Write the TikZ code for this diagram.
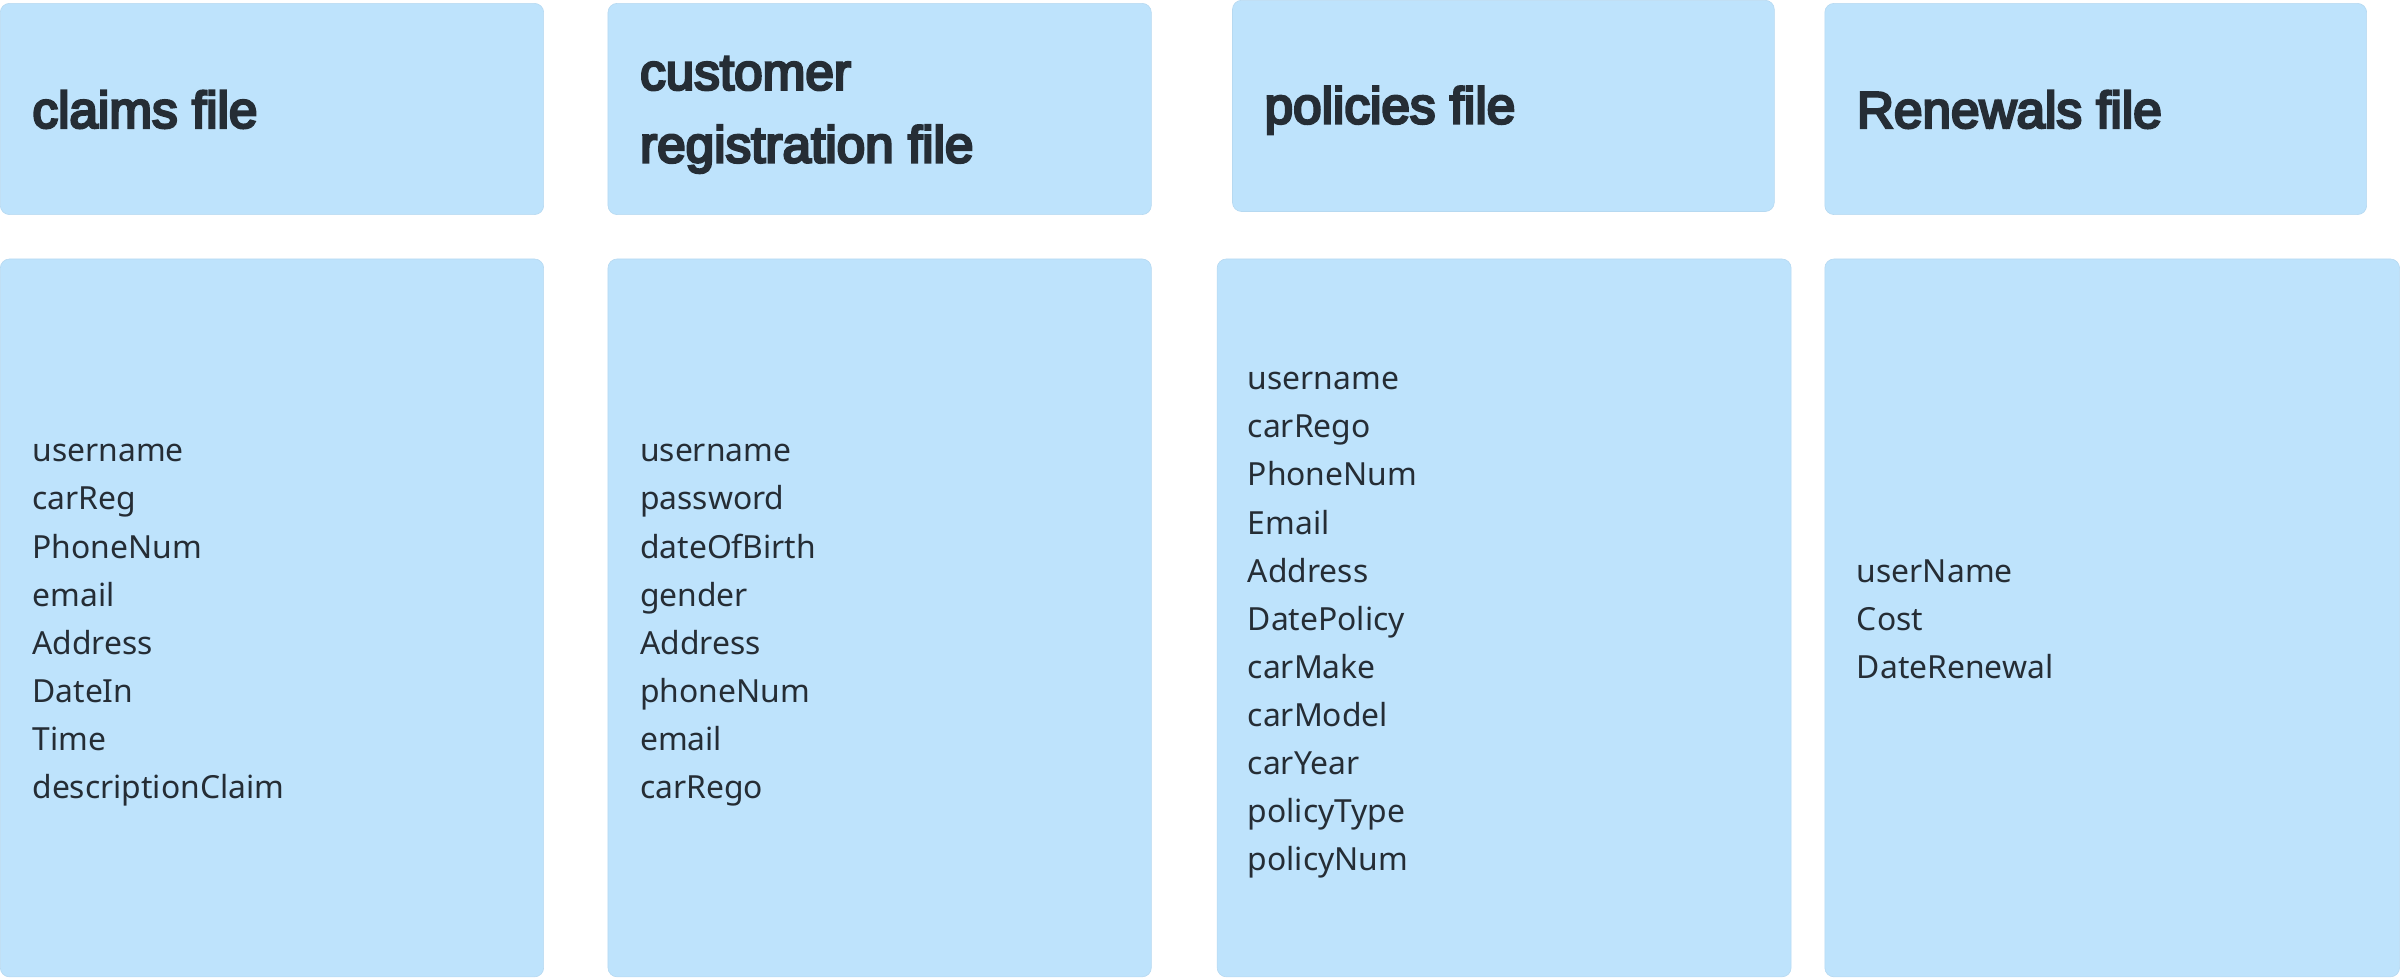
\documentclass[tikz,border=0pt]{standalone}
\usepackage{fontspec}
\setmainfont{Noto Sans}
\newfontfamily\titlefont{Liberation Sans}[FakeBold=5]
\definecolor{boxblue}{HTML}{BEE3FC}
\definecolor{boxedge}{HTML}{B6D9F1}
\definecolor{ink}{HTML}{252D35}
\begin{document}
\begin{tikzpicture}[x=1pt,y=-1pt,
  panel/.style={fill=boxblue, draw=boxedge, line width=0.4pt, rounded corners=6pt,
    inner sep=0pt, anchor=north west, minimum height=#1},
  head/.style={panel=138pt},
  body/.style={panel=469pt},
  title/.style={anchor=west, align=left, text=ink, inner sep=0pt,
    font=\titlefont\fontsize{33.5}{47.5}\selectfont},
  field/.style={anchor=west, align=left, text=ink, inner sep=0pt,
    font=\fontsize{20.8}{31.4}\selectfont}]
\useasboundingbox (0,0) rectangle (1568,639);

% header panels
\node[head, minimum width=355pt] (claimsHead) at (0,2) {};
\node[head, minimum width=355pt] (custHead) at (397,2) {};
\node[head, minimum width=354pt] (polHead) at (805,0) {};
\node[head, minimum width=354pt] (renHead) at (1192,2) {};

% body panels
\node[body, minimum width=355pt] (claimsBody) at (0,169) {};
\node[body, minimum width=355pt] (custBody) at (397,169) {};
\node[body, minimum width=375pt] (polBody) at (795,169) {};
\node[body, minimum width=375.5pt] (renBody) at (1192,169) {};

% titles
\node[title] (claimsTitle) at (21,71.5) {claims file};
\node[title] (custTitle) at (418,75) {customer\\registration file};
\node[title] (polTitle) at (826,72) {policies file};
\node[title] (renTitle) at (1213,71.5) {Renewals file};

% fields
\node[field] (claimsFields) at (21,408.5)
  {username\\carReg\\PhoneNum\\email\\Address\\DateIn\\Time\\descriptionClaim};
\node[field] (custFields) at (418,408.5)
  {username\\password\\dateOfBirth\\gender\\Address\\phoneNum\\email\\carRego};
\node[field] (polFields) at (815,408.5)
  {username\\carRego\\PhoneNum\\Email\\Address\\DatePolicy\\carMake\\carModel\\carYear\\policyType\\policyNum};
\node[field] (renFields) at (1213,404.5)
  {userName\\Cost\\DateRenewal};
\end{tikzpicture}
\end{document}
